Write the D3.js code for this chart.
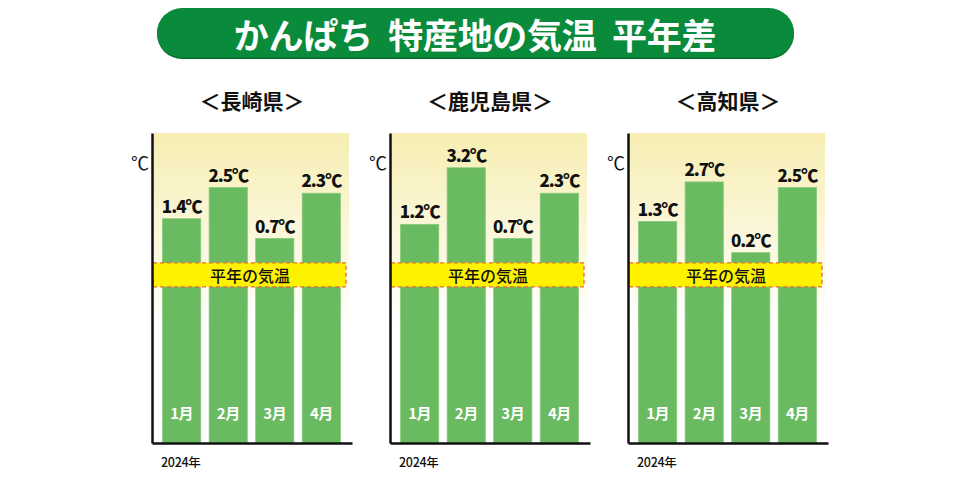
<!DOCTYPE html>
<html><head><meta charset="utf-8">
<script src="https://cdn.jsdelivr.net/npm/d3@7"></script>
<style>
html,body{margin:0;padding:0;background:#fff;}
svg{display:block;}
</style>
</head><body>
<svg id="c" width="958" height="481"></svg>
<script>
const titleText = "かんぱち 特産地の気温 平年差";
const months = ["1月", "2月", "3月", "4月"];
const prefectures = ["＜長崎県＞", "＜鹿児島県＞", "＜高知県＞"];
const nagasaki = [1.4, 2.5, 0.7, 2.3];
const kagoshima = [1.2, 3.2, 0.7, 2.3];
const kochi = [1.3, 2.7, 0.2, 2.5];
const seriesList = [nagasaki, kagoshima, kochi];
const yearLabel = "2024年";
const unitLabel = "℃";
const baselineLabel = "平年の気温";
const yDomain = [-6.53, 4.43];

const svg = d3.select("#c");
const font = "'Noto Sans CJK JP', 'Noto Sans', sans-serif";

const defs = svg.append("defs");
const grad = defs.append("linearGradient").attr("id", "bg").attr("x1", 0).attr("y1", 0).attr("x2", 0).attr("y2", 1);
grad.append("stop").attr("offset", "0%").attr("stop-color", "#f6eeb2");
grad.append("stop").attr("offset", "62%").attr("stop-color", "#ffffff");
grad.append("stop").attr("offset", "100%").attr("stop-color", "#ffffff");

// title pill
svg.append("rect").attr("x", 157).attr("y", 9).attr("width", 637).attr("height", 50)
  .attr("rx", 25).attr("fill", "#076f2e");
svg.append("rect").attr("x", 157).attr("y", 8).attr("width", 637).attr("height", 49.5)
  .attr("rx", 25).attr("fill", "#0a8b3b");
svg.append("text").attr("x", 475).attr("y", 33).attr("text-anchor", "middle")
  .attr("dominant-baseline", "central").attr("fill", "#fff")
  .attr("font-family", font).attr("font-weight", 700).attr("font-size", 35)
  .attr("letter-spacing", -0.3).attr("word-spacing", 8)
  .text(titleText);

const panelX0 = [152, 390, 628];
const plotW = 196;
const plotTop = 133, plotBottom = 443;

const y = d3.scaleLinear().domain(yDomain).range([plotBottom, plotTop]);

seriesList.forEach((vals, i) => {
  const g = svg.append("g").attr("transform", `translate(${panelX0[i]},0)`);
  g.append("text").attr("x", 100).attr("y", 100).attr("text-anchor", "middle")
    .attr("dominant-baseline", "central").attr("fill", "#111")
    .attr("font-family", font).attr("font-weight", 700).attr("font-size", 21)
    .text(prefectures[i]);
  g.append("rect").attr("x", 1).attr("y", plotTop).attr("width", plotW).attr("height", plotBottom - plotTop)
    .attr("fill", "url(#bg)");
  const x = d3.scaleBand().domain(months).range([5, 194]).paddingInner(0.18).paddingOuter(0.12);
  g.selectAll("rect.bar").data(vals).join("rect").attr("class", "bar")
    .attr("x", (d, j) => x(months[j]))
    .attr("y", d => y(d))
    .attr("width", x.bandwidth())
    .attr("height", d => y(yDomain[0]) - y(d))
    .attr("fill", "#6aba62").attr("stroke", "#86c97a").attr("stroke-width", 0.8);
  g.selectAll("text.val").data(vals).join("text").attr("class", "val")
    .attr("x", (d, j) => x(months[j]) + x.bandwidth() / 2)
    .attr("y", d => y(d) - 6)
    .attr("text-anchor", "middle").attr("fill", "#111")
    .attr("font-family", font).attr("font-weight", 900).attr("font-size", 17)
    .attr("letter-spacing", -1)
    .text(d => d.toFixed(1) + "℃");
  g.selectAll("text.mon").data(months).join("text").attr("class", "mon")
    .attr("x", d => x(d) + x.bandwidth() / 2)
    .attr("y", 412)
    .attr("text-anchor", "middle").attr("dominant-baseline", "central").attr("fill", "#fff")
    .attr("font-family", font).attr("font-weight", 700).attr("font-size", 15)
    .attr("letter-spacing", -0.5)
    .text(d => d);
  const y0 = y(0);
  g.append("rect").attr("x", 1).attr("y", y0 + 4.5).attr("width", 193).attr("height", 24)
    .attr("fill", "#fff200").attr("stroke", "#ee6a2e").attr("stroke-width", 1.3)
    .attr("stroke-dasharray", "4,3");
  g.append("text").attr("x", 98).attr("y", y0 + 16.5).attr("text-anchor", "middle")
    .attr("dominant-baseline", "central").attr("fill", "#111")
    .attr("font-family", font).attr("font-weight", 500).attr("font-size", 16)
    .text(baselineLabel);
  const yAxis = d3.axisLeft(y).tickValues([]).tickSizeOuter(0);
  g.append("g").call(yAxis).call(s => s.select(".domain").attr("stroke", "#111").attr("stroke-width", 2.5));
  const xAxis = d3.axisBottom(d3.scaleLinear().domain([0, 1]).range([0, 200])).tickValues([]).tickSizeOuter(0);
  g.append("g").attr("transform", `translate(0,${plotBottom})`).call(xAxis)
    .call(s => s.select(".domain").attr("stroke", "#111").attr("stroke-width", 2.5));
  g.append("text").attr("x", -12).attr("y", 162).attr("text-anchor", "middle")
    .attr("dominant-baseline", "central").attr("fill", "#111")
    .attr("font-family", font).attr("font-weight", 400).attr("font-size", 18)
    .text(unitLabel);
  g.append("text").attr("x", 9).attr("y", 461).attr("text-anchor", "start")
    .attr("dominant-baseline", "central").attr("fill", "#111")
    .attr("font-family", font).attr("font-weight", 500).attr("font-size", 12.5)
    .attr("letter-spacing", -0.3)
    .text(yearLabel);
});
</script>
</body></html>
